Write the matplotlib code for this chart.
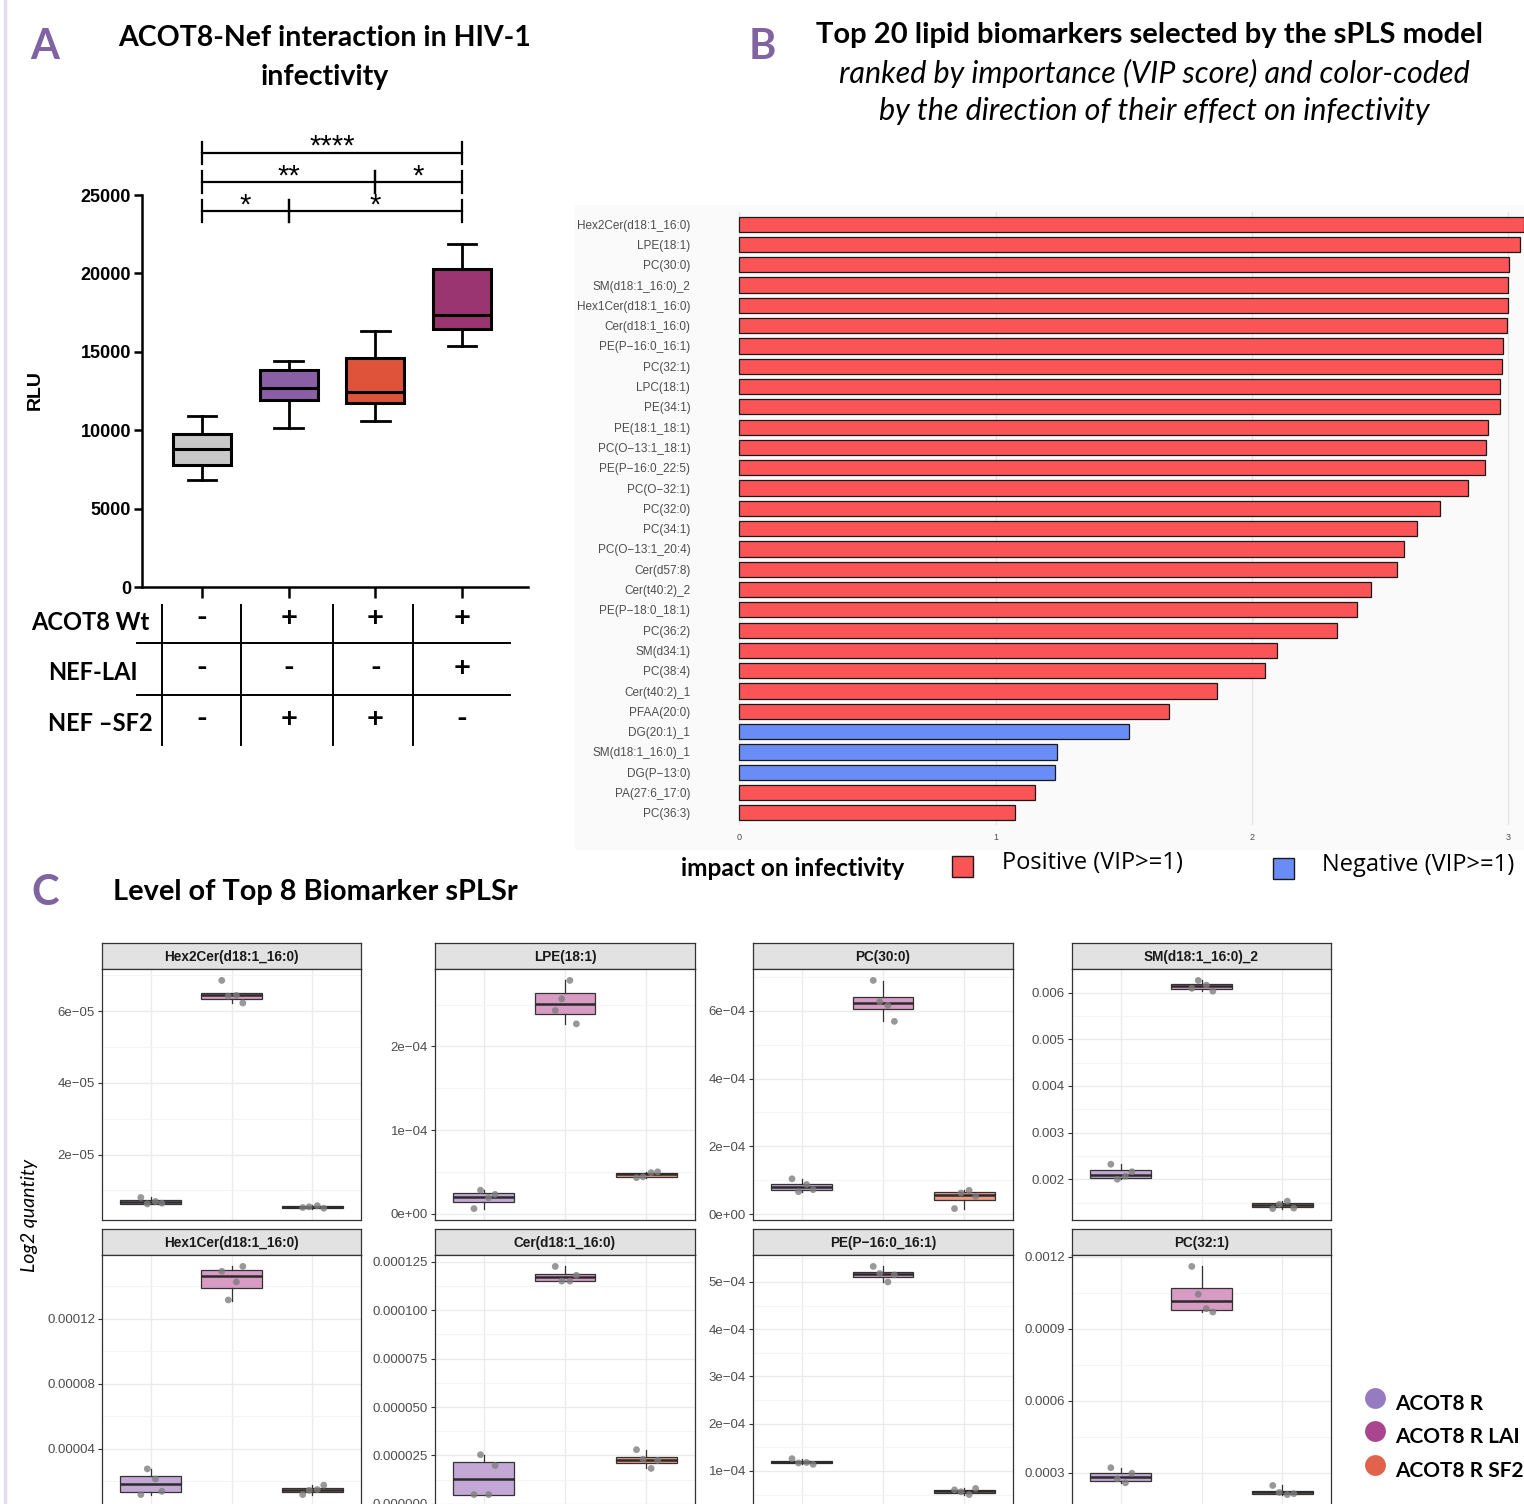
import matplotlib
matplotlib.use('Agg')
import matplotlib.pyplot as plt
import matplotlib.transforms as mtransforms
from matplotlib.patches import Rectangle
from matplotlib.lines import Line2D
from matplotlib.ticker import AutoMinorLocator

plt.rcParams['font.family'] = ['Lato', 'DejaVu Sans']

W, H = 1524, 1504

# ---------------- data: panel A (RLU box plots) ----------------
rlu_whislo = [6820, 10120, 10610, 15370]
rlu_q1 = [7780, 11930, 11710, 16430]
rlu_med = [8820, 12710, 12440, 17350]
rlu_q3 = [9760, 13840, 14600, 20260]
rlu_whishi = [10900, 14390, 16330, 21860]
rlu_ticks = [0, 5000, 10000, 15000, 20000, 25000]

bracket_pairs = [(0, 3), (0, 2), (2, 3), (0, 1), (1, 3)]
bracket_levels = [27700, 25830, 25830, 23980, 23980]
bracket_labels = ['****', '**', '*', '*', '*']

row_labels = ['ACOT8 Wt', 'NEF-LAI', 'NEF \u2013SF2']
row_signs = [['-', '+', '+', '+'],
             ['-', '-', '-', '+'],
             ['-', '+', '+', '-']]

# ---------------- data: panel B (VIP scores) ----------------
lipids_b = ['Hex2Cer(d18:1_16:0)', 'LPE(18:1)', 'PC(30:0)', 'SM(d18:1_16:0)_2',
            'Hex1Cer(d18:1_16:0)', 'Cer(d18:1_16:0)', 'PE(P\u221216:0_16:1)', 'PC(32:1)',
            'LPC(18:1)', 'PE(34:1)', 'PE(18:1_18:1)', 'PC(O\u221213:1_18:1)',
            'PE(P\u221216:0_22:5)', 'PC(O\u221232:1)', 'PC(32:0)', 'PC(34:1)',
            'PC(O\u221213:1_20:4)', 'Cer(d57:8)', 'Cer(t40:2)_2', 'PE(P\u221218:0_18:1)',
            'PC(36:2)', 'SM(d34:1)', 'PC(38:4)', 'Cer(t40:2)_1', 'PFAA(20:0)',
            'DG(20:1)_1', 'SM(d18:1_16:0)_1', 'DG(P\u221213:0)', 'PA(27:6_17:0)', 'PC(36:3)']
vip_b = [3.06, 3.047, 3.004, 2.999, 2.997, 2.995, 2.978, 2.977, 2.969, 2.966,
         2.919, 2.911, 2.909, 2.843, 2.734, 2.642, 2.593, 2.567, 2.463, 2.411,
         2.331, 2.099, 2.049, 1.865, 1.677, 1.521, 1.241, 1.233, 1.152, 1.074]
effect_b = ['Positive'] * 25 + ['Negative'] * 3 + ['Positive'] * 2

# ---------------- data: panel C (top 8 biomarkers) ----------------
lipids_c = ['Hex2Cer(d18:1_16:0)', 'LPE(18:1)', 'PC(30:0)', 'SM(d18:1_16:0)_2',
            'Hex1Cer(d18:1_16:0)', 'Cer(d18:1_16:0)', 'PE(P\u221216:0_16:1)', 'PC(32:1)']
groups_c = ['ACOT8 R', 'ACOT8 R LAI', 'ACOT8 R SF2']

# (whislo, q1, med, q3, whishi)
box_r = [(6.1e-6, 6.3e-6, 6.7e-6, 7.4e-6, 8.0e-6),
         (0.6e-5, 1.4e-5, 2.0e-5, 2.5e-5, 2.8e-5),
         (0.66e-4, 0.70e-4, 0.79e-4, 0.90e-4, 1.04e-4),
         (2.00e-3, 2.03e-3, 2.09e-3, 2.19e-3, 2.32e-3),
         (1.19e-5, 1.35e-5, 1.85e-5, 2.31e-5, 2.77e-5),
         (0.48e-5, 0.48e-5, 1.28e-5, 2.16e-5, 2.54e-5),
         (1.14e-4, 1.16e-4, 1.18e-4, 1.21e-4, 1.26e-4),
         (2.58e-4, 2.64e-4, 2.83e-4, 3.00e-4, 3.21e-4)]
box_lai = [(6.23e-5, 6.35e-5, 6.44e-5, 6.52e-5, 6.52e-5),
           (2.27e-4, 2.39e-4, 2.51e-4, 2.64e-4, 2.79e-4),
           (5.71e-4, 6.05e-4, 6.23e-4, 6.42e-4, 6.89e-4),
           (6.03e-3, 6.07e-3, 6.13e-3, 6.19e-3, 6.26e-3),
           (1.31e-4, 1.39e-4, 1.46e-4, 1.50e-4, 1.52e-4),
           (1.150e-4, 1.152e-4, 1.170e-4, 1.188e-4, 1.226e-4),
           (5.00e-4, 5.10e-4, 5.16e-4, 5.22e-4, 5.33e-4),
           (9.70e-4, 9.78e-4, 1.014e-3, 1.07e-3, 1.16e-3)]
box_sf2 = [(4.9e-6, 5.0e-6, 5.3e-6, 5.6e-6, 5.8e-6),
           (0.43e-4, 0.44e-4, 0.47e-4, 0.49e-4, 0.50e-4),
           (0.16e-4, 0.40e-4, 0.55e-4, 0.64e-4, 0.70e-4),
           (1.37e-3, 1.40e-3, 1.45e-3, 1.50e-3, 1.53e-3),
           (1.19e-5, 1.37e-5, 1.50e-5, 1.62e-5, 1.77e-5),
           (1.83e-5, 2.12e-5, 2.26e-5, 2.40e-5, 2.80e-5),
           (0.50e-4, 0.54e-4, 0.57e-4, 0.60e-4, 0.63e-4),
           (2.09e-4, 2.11e-4, 2.18e-4, 2.24e-4, 2.47e-4)]

pts_r = [[8.0e-6, 6.9e-6, 6.4e-6, 6.2e-6],
         [0.6e-5, 1.9e-5, 2.3e-5, 2.8e-5],
         [1.04e-4, 0.87e-4, 0.72e-4, 0.66e-4],
         [2.32e-3, 2.06e-3, 2.16e-3, 2.00e-3],
         [1.19e-5, 2.15e-5, 1.39e-5, 2.77e-5],
         [0.48e-5, 0.48e-5, 1.98e-5, 2.54e-5],
         [1.26e-4, 1.18e-4, 1.14e-4, 1.17e-4],
         [3.21e-4, 2.58e-4, 2.98e-4, 2.75e-4]]
pts_lai = [[6.86e-5, 6.44e-5, 6.23e-5, 6.42e-5],
           [2.43e-4, 2.79e-4, 2.27e-4, 2.57e-4],
           [6.90e-4, 6.16e-4, 5.69e-4, 6.27e-4],
           [6.09e-3, 6.16e-3, 6.03e-3, 6.26e-3],
           [1.49e-4, 1.425e-4, 1.52e-4, 1.314e-4],
           [1.226e-4, 1.15e-4, 1.18e-4, 1.15e-4],
           [5.33e-4, 5.00e-4, 5.15e-4, 5.18e-4],
           [1.16e-3, 9.84e-4, 9.70e-4, 1.044e-3]]
pts_sf2 = [[5.2e-6, 5.7e-6, 5.0e-6, 5.4e-6],
           [0.43e-4, 0.49e-4, 0.50e-4, 0.44e-4],
           [0.16e-4, 0.70e-4, 0.52e-4, 0.62e-4],
           [1.37e-3, 1.53e-3, 1.38e-3, 1.46e-3],
           [1.19e-5, 1.50e-5, 1.77e-5, 1.45e-5],
           [2.80e-5, 1.83e-5, 2.24e-5, 2.30e-5],
           [0.60e-4, 0.50e-4, 0.63e-4, 0.56e-4],
           [2.47e-4, 2.09e-4, 2.13e-4, 2.18e-4]]

yticks_c = [[2e-5, 4e-5, 6e-5],
            [0, 1e-4, 2e-4],
            [0, 2e-4, 4e-4, 6e-4],
            [0.002, 0.003, 0.004, 0.005, 0.006],
            [0.00004, 0.00008, 0.00012],
            [0, 0.000025, 0.00005, 0.000075, 0.0001, 0.000125],
            [1e-4, 2e-4, 3e-4, 4e-4, 5e-4],
            [0.0003, 0.0006, 0.0009, 0.0012]]
ylabels_c = [['2e\u221205', '4e\u221205', '6e\u221205'],
             ['0e+00', '1e\u221204', '2e\u221204'],
             ['0e+00', '2e\u221204', '4e\u221204', '6e\u221204'],
             ['0.002', '0.003', '0.004', '0.005', '0.006'],
             ['0.00004', '0.00008', '0.00012'],
             ['0.000000', '0.000025', '0.000050', '0.000075', '0.000100', '0.000125'],
             ['1e\u221204', '2e\u221204', '3e\u221204', '4e\u221204', '5e\u221204'],
             ['0.0003', '0.0006', '0.0009', '0.0012']]


def px_rect(l, t, r, b):
    return [l / W, 1 - b / H, (r - l) / W, (b - t) / H]


def fx(x):
    return x / W


def fy(y):
    return 1 - y / H


def box_stats(vals):
    lo, q1, med, q3, hi = vals
    return dict(whislo=lo, q1=q1, med=med, q3=q3, whishi=hi, fliers=[])


fig = plt.figure(figsize=(W / 100, H / 100), dpi=100)
fig.patch.set_facecolor('white')
fig.add_artist(Line2D([fx(5), fx(5)], [0, 1], color='#E3DCEE', lw=2.5))

letter_color = '#8064A2'
for letter, (lx, ly) in zip('ABC', [(45, 47), (762, 47), (45, 893)]):
    fig.text(fx(lx), fy(ly), letter, fontsize=30, fontweight='bold', color=letter_color,
             ha='center', va='center')

# ---------------- panel A ----------------
fig.text(fx(325), fy(38), 'ACOT8-Nef interaction in HIV-1', fontsize=20.5,
         fontweight='bold', ha='center', va='center')
fig.text(fx(325), fy(77), 'infectivity', fontsize=20.5, fontweight='bold',
         ha='center', va='center')

axa = fig.add_axes(px_rect(142, 195, 528, 587))
stats_a = [box_stats(v) for v in zip(rlu_whislo, rlu_q1, rlu_med, rlu_q3, rlu_whishi)]
bp = axa.bxp(stats_a, positions=range(4), widths=0.67, patch_artist=True, showfliers=False,
             boxprops=dict(linewidth=2.2, edgecolor='black'),
             medianprops=dict(color='black', linewidth=2.2),
             whiskerprops=dict(color='black', linewidth=2),
             capprops=dict(color='black', linewidth=2), capwidths=0.33)
for patch, c in zip(bp['boxes'], ['#C8C8C8', '#8A5FA6', '#DF533B', '#9B3571']):
    patch.set_facecolor(c)
axa.set_xlim(-0.692, 3.762)
axa.set_ylim(0, 25000)
axa.set_yticks(rlu_ticks)
axa.set_yticklabels([str(t) for t in rlu_ticks], fontfamily='Liberation Sans',
                    fontweight='bold', fontsize=13)
axa.set_xticks(range(4))
axa.set_xticklabels([])
for s in ['top', 'right']:
    axa.spines[s].set_visible(False)
for s in ['left', 'bottom']:
    axa.spines[s].set_linewidth(1.8)
axa.tick_params(axis='y', length=6, width=1.8, pad=2)
axa.tick_params(axis='x', length=8, width=1.8)
axa.patch.set_alpha(0)
fig.text(fx(35), fy(390), 'RLU', rotation=90, fontfamily='Liberation Sans', fontweight='bold',
         fontsize=14, ha='center', va='center')

for (x1, x2), yb, lab in zip(bracket_pairs, bracket_levels, bracket_labels):
    axa.plot([x1, x2], [yb, yb], color='black', lw=1.6, clip_on=False)
    for xv in (x1, x2):
        axa.plot([xv, xv], [yb - 700, yb + 700], color='black', lw=1.6, clip_on=False)
    axa.text((x1 + x2) / 2, yb - 150, lab, ha='center', va='baseline', fontsize=21,
             fontfamily='Liberation Sans', clip_on=False)

tr_a = mtransforms.blended_transform_factory(axa.transData, fig.transFigure)
for xv in [-0.46, 0.45, 1.51, 2.43]:
    axa.add_artist(Line2D([xv, xv], [fy(605), fy(745)], color='black', lw=1.4,
                          transform=tr_a, clip_on=False))
for yv in [643, 695]:
    axa.add_artist(Line2D([-0.75, 3.55], [fy(yv), fy(yv)], color='black', lw=1.4,
                          transform=tr_a, clip_on=False))
for row_y, lab, signs, lx in zip([620, 670, 721], row_labels, row_signs, [31, 48, 48]):
    fig.text(fx(lx), fy(row_y + 2), lab, fontsize=17, fontweight='bold', ha='left', va='center')
    for g, sgn in enumerate(signs):
        axa.text(g, fy(row_y - 2), sgn, transform=tr_a, fontsize=21, fontweight='bold',
                 ha='center', va='center', clip_on=False)

# ---------------- panel B ----------------
fig.patches.append(Rectangle((fx(575), fy(850)), (W - 575) / W, (850 - 205) / H,
                             transform=fig.transFigure, facecolor='#FAFAFA',
                             edgecolor='none', zorder=-5))
fig.text(fx(1149), fy(35), 'Top 20 lipid biomarkers selected by the sPLS model', fontsize=21,
         fontweight='bold', ha='center', va='center')
fig.text(fx(1154), fy(73), 'ranked by importance (VIP score) and color-coded', fontsize=22,
         style='italic', ha='center', va='center')
fig.text(fx(1154), fy(111), 'by the direction of their effect on infectivity', fontsize=22,
         style='italic', ha='center', va='center')

red_b, blue_b = '#FA5457', '#6A8CF6'
axb = fig.add_axes(px_rect(700, 212, 1563, 825))
axb.patch.set_alpha(0)
bar_colors = [red_b if e == 'Positive' else blue_b for e in effect_b]
axb.barh(range(len(vip_b)), vip_b, height=0.75, color=bar_colors, edgecolor='#1A1A1A',
         linewidth=0.9, zorder=3)
axb.set_xlim(-0.153, 3.213)
axb.set_ylim(len(vip_b) - 0.4, -0.6)
axb.set_yticks(range(len(lipids_b)))
axb.set_yticklabels(lipids_b, fontsize=8.5, color='#4D4D4D', fontfamily='Liberation Sans')
axb.set_xticks([0, 1, 2, 3])
axb.set_xticklabels(['0', '1', '2', '3'], fontsize=6.5, color='#4D4D4D',
                    fontfamily='Liberation Sans')
axb.tick_params(axis='y', length=0, pad=7)
axb.tick_params(axis='x', length=0, pad=6)
axb.grid(axis='x', color='#E6E6E6', lw=1, zorder=0)
for s in axb.spines.values():
    s.set_visible(False)

fig.text(fx(681), fy(868), 'impact on infectivity', fontsize=17.6, fontweight='bold',
         ha='left', va='center')
for (sx, sy), c, lab, tx in zip([(952, 856), (1273, 858)], [red_b, blue_b],
                                ['Positive (VIP>=1)', 'Negative (VIP>=1)'], [1002, 1322]):
    fig.add_artist(Rectangle((fx(sx), fy(sy + 21)), 21 / W, 21 / H, transform=fig.transFigure,
                             facecolor=c, edgecolor='#1A1A1A', lw=1))
    fig.text(fx(tx), fy(sy + 7), lab, fontsize=17, ha='left', va='center',
             fontfamily='Open Sans')

# ---------------- panel C ----------------
fig.text(fx(113), fy(892), 'Level of Top 8 Biomarker sPLSr', fontsize=20.8, fontweight='bold',
         ha='left', va='center')
fig.text(fx(30), fy(1215), 'Log2 quantity', rotation=90, style='italic', fontsize=14,
         ha='center', va='center')

col_px = [(102, 361), (435, 695), (753, 1013), (1072, 1331)]
row_px = [(943, 969, 1220), (1229, 1255, 1506)]
fills_c = ['#C3A8D6', '#D79BC4', '#EC9D86']
jit = [-0.12, 0.06, 0.14, -0.04]

for i, name in enumerate(lipids_c):
    l, r = col_px[i % 4]
    st, sb, pb = row_px[i // 4]
    sax = fig.add_axes(px_rect(l, st, r, sb))
    sax.set_facecolor('#E2E2E2')
    sax.set_xticks([])
    sax.set_yticks([])
    for s in sax.spines.values():
        s.set_color('#333333')
        s.set_linewidth(0.9)
    sax.text(0.5, 0.45, name, ha='center', va='center', fontsize=9.8, fontweight='bold',
             fontfamily='Liberation Sans', color='#1A1A1A', transform=sax.transAxes)

    ax = fig.add_axes(px_rect(l, sb, r, pb))
    allv = []
    for g, (bx, pts) in enumerate([(box_r[i], pts_r[i]), (box_lai[i], pts_lai[i]),
                                   (box_sf2[i], pts_sf2[i])]):
        ax.bxp([box_stats(bx)], positions=[g + 1], widths=0.75, patch_artist=True,
               showfliers=False, showcaps=False,
               boxprops=dict(linewidth=0.9, edgecolor='#333333', facecolor=fills_c[g]),
               medianprops=dict(color='#2B2B2B', linewidth=1.8),
               whiskerprops=dict(color='#333333', linewidth=0.9))
        ax.scatter([g + 1 + j for j in jit], pts, s=24, color='#7F7F7F', alpha=0.8,
                   edgecolors='none', zorder=4)
        allv += list(bx) + list(pts)
    lo, hi = min(allv), max(allv)
    pad = 0.05 * (hi - lo)
    ax.set_ylim(lo - pad, hi + pad)
    ax.set_xlim(0.4, 3.6)
    ax.set_xticks([1, 2, 3])
    ax.set_xticklabels([])
    ax.set_yticks(yticks_c[i])
    ax.set_yticklabels(ylabels_c[i], fontsize=9.5, color='#4D4D4D', fontfamily='Liberation Sans')
    ax.yaxis.set_minor_locator(AutoMinorLocator(2))
    ax.tick_params(axis='y', which='major', length=3, color='#333333', width=0.8, pad=2)
    ax.tick_params(axis='y', which='minor', length=0)
    ax.tick_params(axis='x', length=0)
    ax.grid(which='major', color='#EBEBEB', lw=1)
    ax.grid(which='minor', axis='y', color='#F4F4F4', lw=0.8)
    ax.set_axisbelow(True)
    for s in ax.spines.values():
        s.set_color('#333333')
        s.set_linewidth(0.9)

for yy, c, lab in zip([1398, 1431, 1465], ['#977BC0', '#A9468F', '#E2634B'], groups_c):
    fig.add_artist(Line2D([fx(1375)], [fy(yy)], marker='o', markersize=15, color=c,
                          markeredgecolor='none', transform=fig.transFigure))
    fig.text(fx(1395), fy(yy + 6), lab, fontsize=15, fontweight='bold', ha='left', va='center')

fig.savefig('out.png', dpi=100)
